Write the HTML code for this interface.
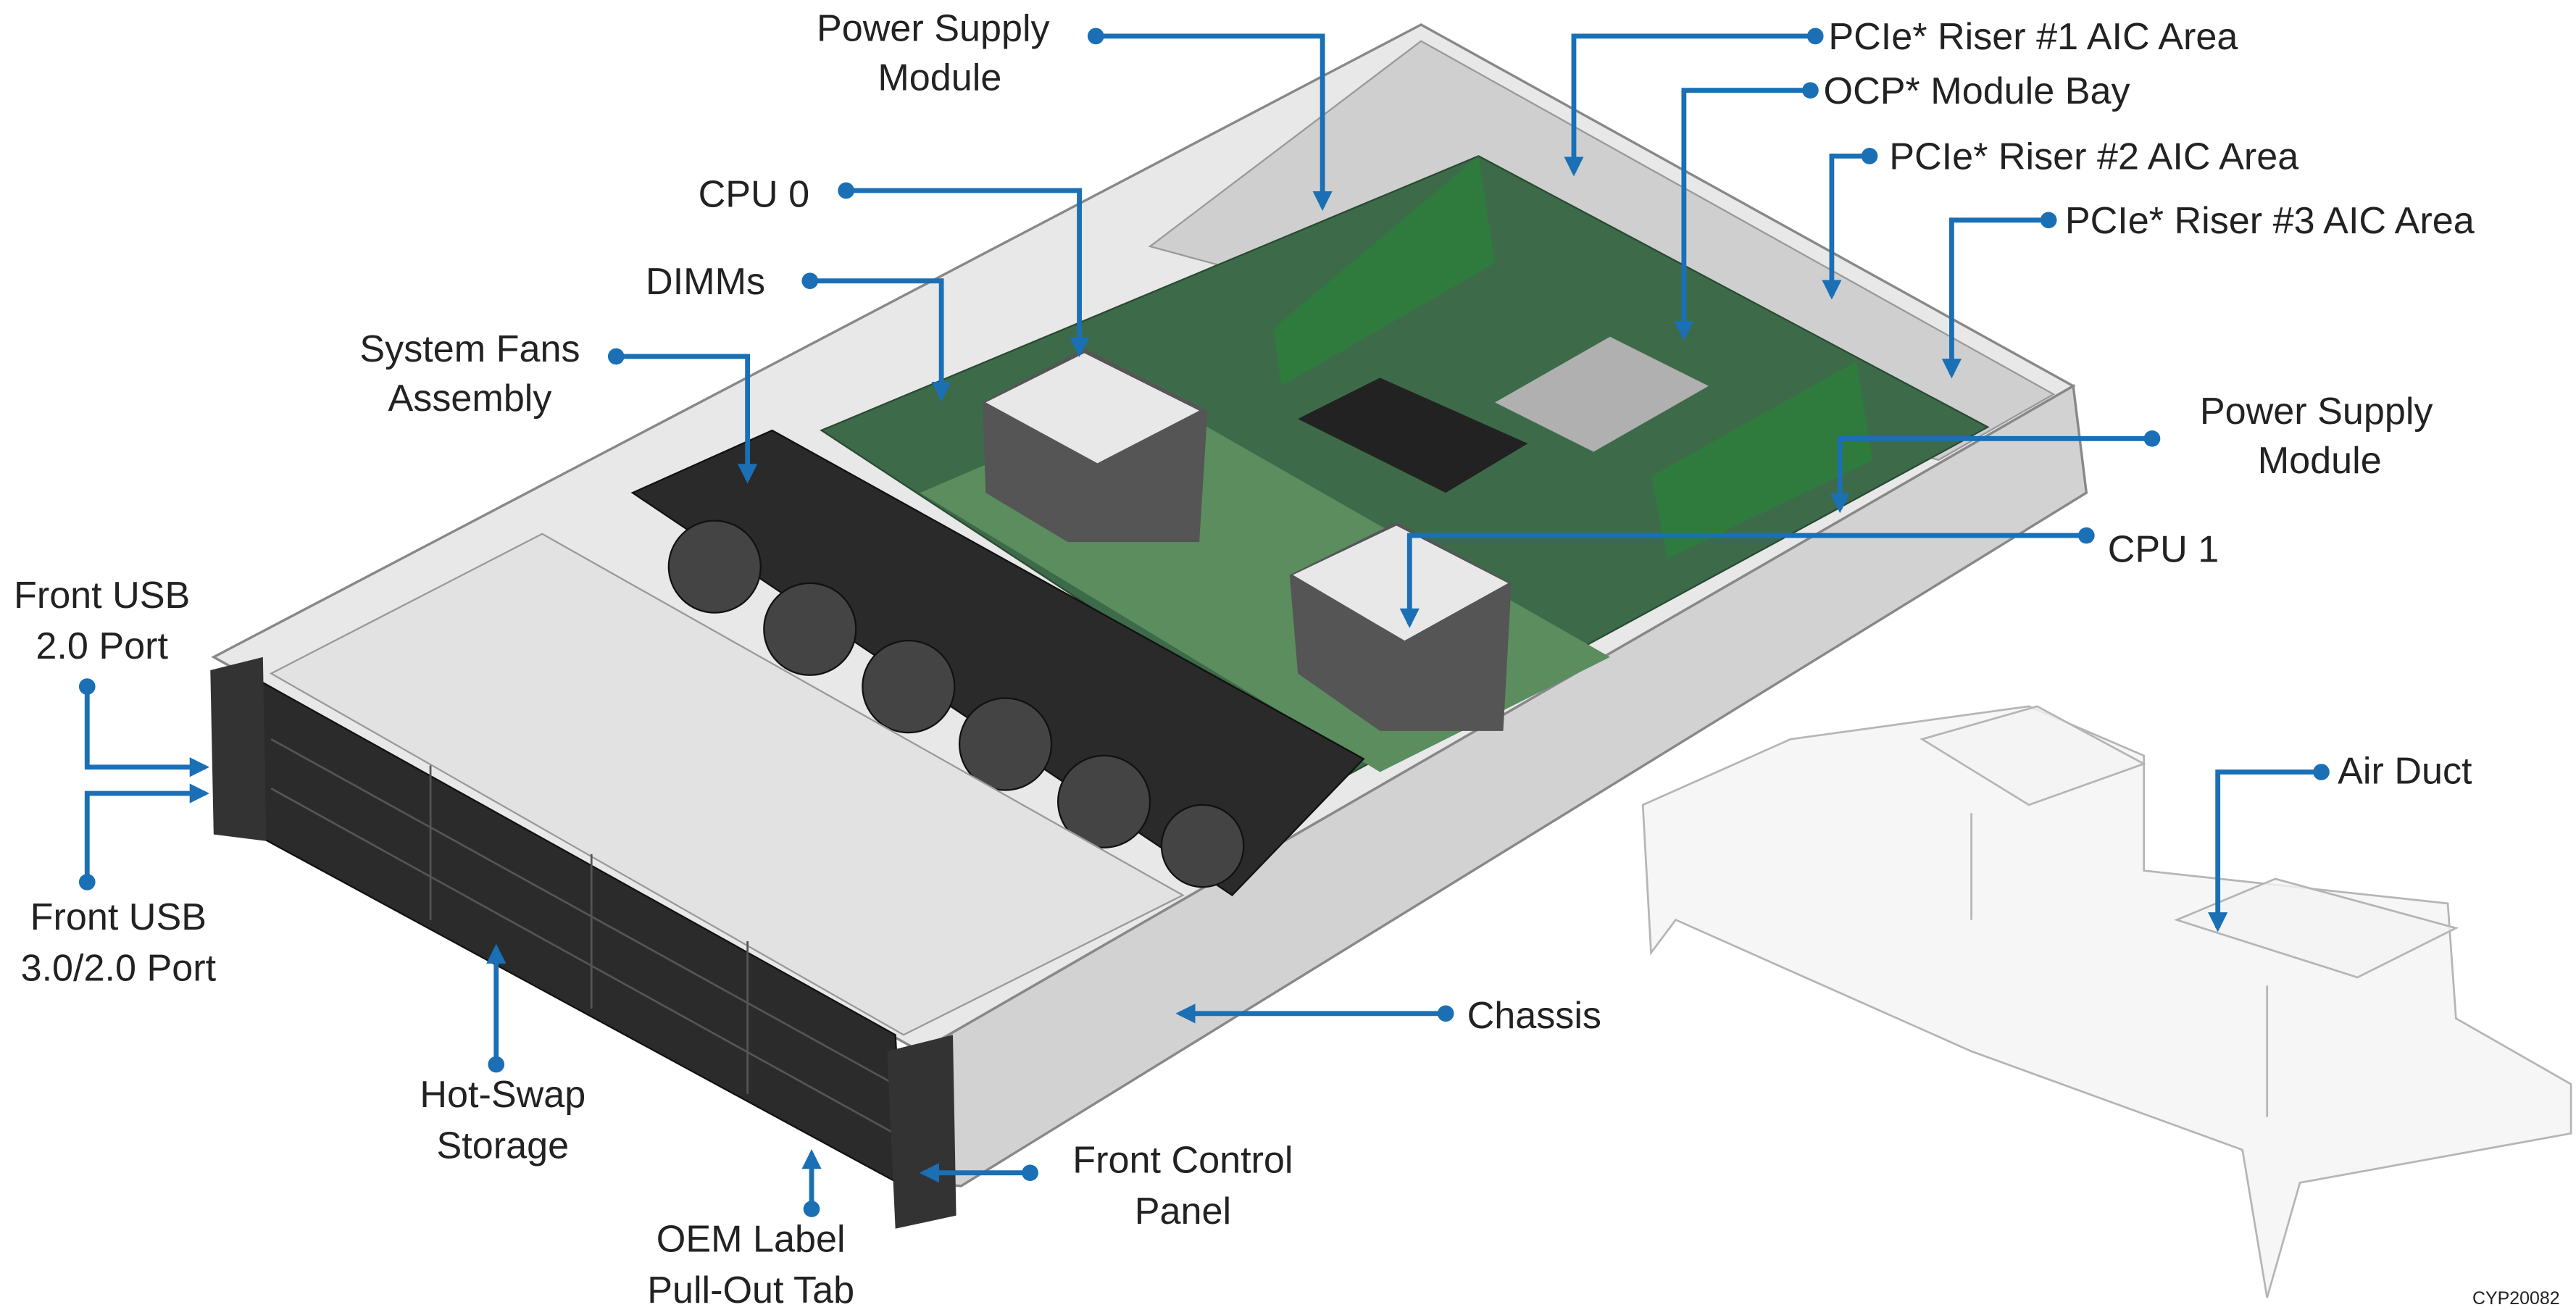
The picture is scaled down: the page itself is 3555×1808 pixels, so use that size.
<!DOCTYPE html>
<html><head><meta charset="utf-8">
<style>
html,body{margin:0;padding:0;background:#fff;}
svg{display:block;}
text{font-family:"Liberation Sans",sans-serif;fill:#222;font-size:23px;}
</style></head>
<body>
<svg width="3555" height="1808" viewBox="0 0 1568 797.5" xmlns="http://www.w3.org/2000/svg">
<defs>
<marker id="ar" viewBox="0 0 10 10" refX="8" refY="5" markerWidth="4" markerHeight="4" orient="auto"><path d="M0,0 L10,5 L0,10 z" fill="#1a6fb5"/></marker>
</defs>
<!-- chassis body -->
<polygon points="130,400 865,15 1262,235 560,640" fill="#e8e8e8" stroke="#888" stroke-width="1.5"/>
<polygon points="560,640 1262,235 1270,300 585,722 560,720" fill="#d2d2d2" stroke="#888" stroke-width="1.5"/>
<!-- rear wall area -->
<polygon points="700,150 865,25 1250,240 1180,280" fill="#cfcfcf" stroke="#999"/>
<!-- motherboard -->
<polygon points="500,262 900,95 1210,260 820,472" fill="#3d6b4a" stroke="#2a4a33"/>
<polygon points="560,300 700,240 980,400 840,470" fill="#5b8d5e"/>
<!-- risers -->
<polygon points="775,200 900,95 910,160 780,235" fill="#2f7a3d"/>
<polygon points="1005,290 1130,220 1140,280 1015,340" fill="#2f7a3d"/>
<!-- heatsinks -->
<polygon points="598,245 660,212 735,250 730,330 650,330 600,300" fill="#555"/>
<polygon points="600,245 660,215 730,250 668,282" fill="#e8e8e8"/>
<polygon points="785,350 850,318 920,355 915,445 840,445 790,410" fill="#555"/>
<polygon points="787,350 850,320 918,355 855,390" fill="#e8e8e8"/>
<!-- chip -->
<polygon points="790,255 840,230 930,270 880,300" fill="#222"/>
<!-- OCP bay -->
<polygon points="910,245 980,205 1040,235 970,275" fill="#b0b0b0"/>
<!-- fans -->
<polygon points="385,300 470,262 830,462 750,545" fill="#2a2a2a" stroke="#111"/>
<g fill="#444" stroke="#111">
<circle cx="435" cy="345" r="28"/><circle cx="493" cy="383" r="28"/><circle cx="553" cy="418" r="28"/><circle cx="612" cy="453" r="28"/><circle cx="672" cy="488" r="28"/><circle cx="732" cy="515" r="25"/>
</g>
<!-- drive top cover -->
<polygon points="165,410 330,325 720,545 550,630" fill="#e2e2e2" stroke="#999"/>
<!-- front drive bezel -->
<polygon points="150,410 545,630 550,722 150,505" fill="#2b2b2b" stroke="#111"/>
<g stroke="#555" stroke-width="1.2">
<line x1="165" y1="450" x2="548" y2="662"/><line x1="165" y1="480" x2="548" y2="692"/>
<line x1="262" y1="466" x2="262" y2="560"/><line x1="360" y1="520" x2="360" y2="614"/><line x1="455" y1="573" x2="455" y2="666"/>
</g>
<polygon points="128,408 160,400 162,512 130,508" fill="#333"/>
<polygon points="540,640 580,630 582,740 545,748" fill="#333"/>
<!-- air duct -->
<g fill="#f4f4f4" fill-opacity="0.8" stroke="#b5b5b5" stroke-width="1.2">
<polygon points="1000,490 1090,450 1235,430 1305,460 1305,530 1490,550 1495,620 1565,660 1565,690 1400,720 1380,790 1365,700 1200,640 1020,560 1005,580"/>
<polygon points="1170,450 1240,430 1305,465 1235,490"/>
<polygon points="1325,560 1385,535 1495,565 1435,595"/>
<line x1="1200" y1="495" x2="1200" y2="560"/><line x1="1380" y1="600" x2="1380" y2="680"/>
</g>
<!-- leader lines -->
<g fill="none" stroke="#1a6fb5" stroke-width="3" marker-end="url(#ar)">
<polyline points="667,22 805,22 805,126"/>
<polyline points="1105,22 958,22 958,105"/>
<polyline points="1102,55 1025,55 1025,205"/>
<polyline points="1138,95 1115,95 1115,180"/>
<polyline points="1247,134 1188,134 1188,228"/>
<polyline points="515,116 657,116 657,215"/>
<polyline points="493,171 573,171 573,242"/>
<polyline points="375,217 455,217 455,292"/>
<polyline points="53,418 53,467 125,467"/>
<polyline points="53,537 53,483 125,483"/>
<polyline points="302,648 302,577"/>
<polyline points="494,736 494,702"/>
<polyline points="627,714 562,714"/>
<polyline points="880,617 718,617"/>
<polyline points="1270,326 858,326 858,380"/>
<polyline points="1310,267 1120,267 1120,310"/>
<polyline points="1413,470 1350,470 1350,565"/>
</g>
<g fill="#1a6fb5">
<circle cx="667" cy="22" r="5"/><circle cx="1105" cy="22" r="5"/><circle cx="1102" cy="55" r="5"/><circle cx="1138" cy="95" r="5"/><circle cx="1247" cy="134" r="5"/><circle cx="515" cy="116" r="5"/><circle cx="493" cy="171" r="5"/><circle cx="375" cy="217" r="5"/><circle cx="53" cy="418" r="5"/><circle cx="53" cy="537" r="5"/><circle cx="302" cy="648" r="5"/><circle cx="494" cy="736" r="5"/><circle cx="627" cy="714" r="5"/><circle cx="880" cy="617" r="5"/><circle cx="1270" cy="326" r="5"/><circle cx="1310" cy="267" r="5"/><circle cx="1413" cy="470" r="5"/>
</g>
<!-- labels -->
<text x="568" y="25" text-anchor="middle">Power Supply</text>
<text x="572" y="55" text-anchor="middle">Module</text>
<text x="1113" y="30">PCIe* Riser #1 AIC Area</text>
<text x="1110" y="63">OCP* Module Bay</text>
<text x="1150" y="103">PCIe* Riser #2 AIC Area</text>
<text x="1257" y="142">PCIe* Riser #3 AIC Area</text>
<text x="425" y="126">CPU 0</text>
<text x="393" y="179">DIMMs</text>
<text x="286" y="220" text-anchor="middle">System Fans</text>
<text x="286" y="250" text-anchor="middle">Assembly</text>
<text x="62" y="370" text-anchor="middle">Front USB</text>
<text x="62" y="401" text-anchor="middle">2.0 Port</text>
<text x="72" y="566" text-anchor="middle">Front USB</text>
<text x="72" y="597" text-anchor="middle">3.0/2.0 Port</text>
<text x="306" y="674" text-anchor="middle">Hot-Swap</text>
<text x="306" y="705" text-anchor="middle">Storage</text>
<text x="457" y="762" text-anchor="middle">OEM Label</text>
<text x="457" y="793" text-anchor="middle">Pull-Out Tab</text>
<text x="720" y="714" text-anchor="middle">Front Control</text>
<text x="720" y="745" text-anchor="middle">Panel</text>
<text x="893" y="626">Chassis</text>
<text x="1283" y="342">CPU 1</text>
<text x="1410" y="258" text-anchor="middle">Power Supply</text>
<text x="1412" y="288" text-anchor="middle">Module</text>
<text x="1423" y="477">Air Duct</text>
<text x="1505" y="794" style="font-size:11px">CYP20082</text>
</svg>
</body></html>
